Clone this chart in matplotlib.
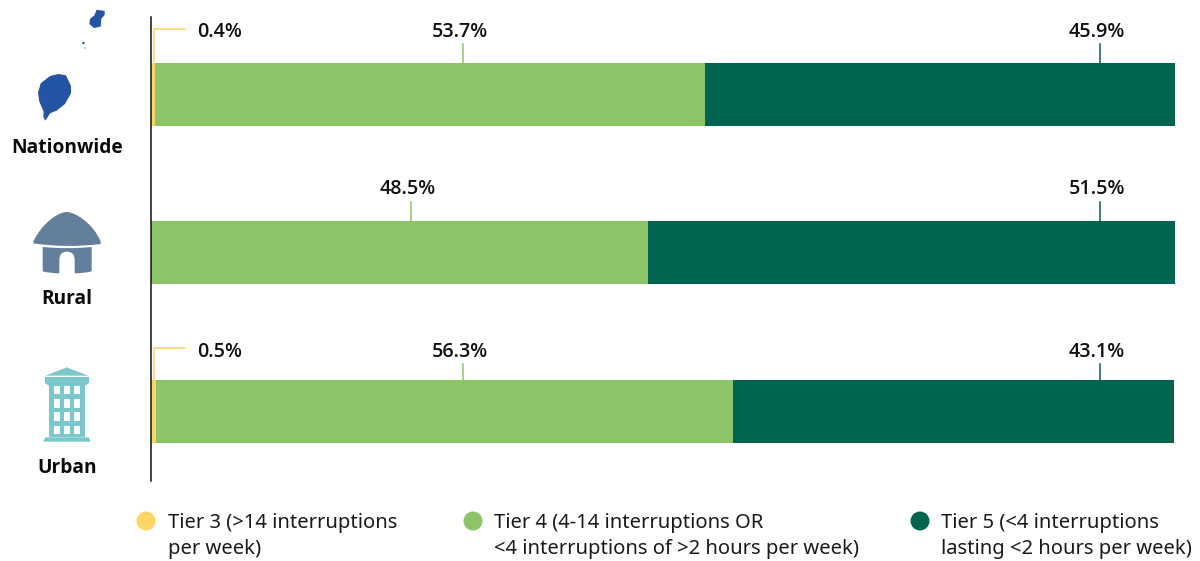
import matplotlib
matplotlib.use("Agg")
import matplotlib.pyplot as plt
from matplotlib.patches import Polygon, PathPatch, Rectangle, Circle
from matplotlib.path import Path

plt.rcParams['font.family'] = ['Noto Sans', 'DejaVu Sans']
BOLD = ['Open Sans', 'Lato', 'DejaVu Sans']

# ---- data ----
categories = ["Nationwide", "Rural", "Urban"]
tier3 = [0.4, 0.0, 0.5]
tier4 = [53.7, 48.5, 56.3]
tier5 = [45.9, 51.5, 43.1]
tier_labels = ["Tier 3 (>14 interruptions\nper week)",
               "Tier 4 (4-14 interruptions OR\n<4 interruptions of >2 hours per week)",
               "Tier 5 (<4 interruptions\nlasting <2 hours per week)"]

# ---- style ----
YEL, GRN, DRK = "#FFD566", "#8CC567", "#006450"
W, H = 1200, 561
fig = plt.figure(figsize=(W / 100, H / 100), dpi=100, facecolor="white")

# chart axes: x 151..1175 px, y 17..481 px, bars 158.5 px apart
ax = fig.add_axes([151 / W, 1 - 481 / H, 1024 / W, 464 / H])
ax.set_xlim(0, 100)
ax.set_ylim((481 - 94.5) / 158.5, (17 - 94.5) / 158.5)
ypos = range(len(categories))
left = [0.0] * 3
for vals, col in ((tier3, YEL), (tier4, GRN), (tier5, DRK)):
    ax.barh([p - 0.0015 for p in ypos], vals, left=left, height=63 / 158.5, color=col, linewidth=0, zorder=2)
    left = [a + b for a, b in zip(left, vals)]
for s in ("top", "right", "bottom"):
    ax.spines[s].set_visible(False)
ax.spines["left"].set_linewidth(1.1)
ax.spines["left"].set_color("#111111")
ax.spines["left"].set_zorder(5)
ax.set_xticks([])
ax.set_yticks([])

# overlay in pixel coordinates for leaders, icons, labels and legend
ov = fig.add_axes([0, 0, 1, 1], facecolor="none")
ov.set_xlim(0, W)
ov.set_ylim(H, 0)
ov.axis("off")

TXT = "#111111"
bar_tops = [63, 221, 380]
label_y = [31.5, 188.5, 351.5]
leader_tops = [44, 202, 364]
yellow_y = [29, None, 348]
label_x4 = [460, 408, 460]
for i in ypos:
    top = bar_tops[i]
    ly = leader_tops[i]
    if tier3[i] > 0:
        ov.plot([153.5, 153.5, 185], [top, yellow_y[i], yellow_y[i]], color=YEL, lw=1.1, solid_joinstyle="miter")
        ov.text(219.5, label_y[i], f"{tier3[i]:.1f}%", ha="center", va="center", fontsize=14.2, fontweight="semibold", family=BOLD, color=TXT)
    ov.plot([label_x4[i] + 3] * 2, [top, ly], color=GRN, lw=1.1)
    ov.text(label_x4[i], label_y[i], f"{tier4[i]:.1f}%", ha="center", va="center",
            fontsize=14.2, fontweight="semibold", family=BOLD, color=TXT)
    ov.plot([1099.5] * 2, [top, ly], color=DRK, lw=1.1)
    ov.text(1096.5, label_y[i], f"{tier5[i]:.1f}%", ha="center", va="center", fontsize=14.2, fontweight="semibold", family=BOLD, color=TXT)

# category labels
for name, y in zip(categories, (148, 299, 468)):
    ov.text(67, y, name, ha="center", va="center", fontsize=13.8, fontweight="bold", family=BOLD, color="#0b0b0b")

# map icon
BLUE = "#2455A4"
main = [(175,222),(198,226),(213,258),(213,280),(195,312),(170,332),(150,340),(143,352),(135,362),(130,350),(131,335),(118,305),(114,278),(122,250),(150,228)]
north = [(290,29),(314,33),(314,45),(304,56),(302,80),(282,84),(268,72),(270,57),(283,46)]
for poly in (main, north):
    ov.add_patch(Polygon([(x / 3, y / 3) for x, y in poly], closed=True, fc=BLUE, ec="none"))
ov.add_patch(Circle((83.5, 43), 1.2, fc=BLUE, ec="none"))
ov.add_patch(Circle((85, 48), 0.6, fc=BLUE, ec="none"))

# hut icon
HUT = "#647F9C"
def Z(x, y):
    return (x / 3, 200 + y / 3)
roof = Path([Z(100,125), Z(125,70), Z(175,36), Z(200,36), Z(225,36), Z(280,70), Z(302,125), Z(302,132), Z(200,145), Z(100,130), Z(100,125)],
            [Path.MOVETO, Path.CURVE4, Path.CURVE4, Path.CURVE4, Path.CURVE4, Path.CURVE4, Path.CURVE4, Path.LINETO, Path.CURVE3, Path.CURVE3, Path.CLOSEPOLY])
ov.add_patch(PathPatch(roof, fc=HUT, ec="none"))
wall = Path([Z(128,141), Z(200,148), Z(275,141), Z(275,214), Z(250,220), Z(224,220), Z(224,180), Z(224,155), Z(201,155),
             Z(178,155), Z(178,180), Z(178,220), Z(150,220), Z(128,214), Z(128,141)],
            [Path.MOVETO, Path.CURVE3, Path.CURVE3, Path.LINETO, Path.CURVE3, Path.CURVE3, Path.LINETO, Path.CURVE3, Path.CURVE3,
             Path.CURVE3, Path.CURVE3, Path.LINETO, Path.CURVE3, Path.CURVE3, Path.CLOSEPOLY])
ov.add_patch(PathPatch(wall, fc=HUT, ec="none"))

# building icon
BLD = "#7AC8CC"
def rect(x0, y0, x1, y1, c):
    a, b = Z(x0, y0), Z(x1, y1)
    ov.add_patch(Rectangle(a, b[0] - a[0], b[1] - a[1], fc=c, ec="none"))
ov.add_patch(Polygon([Z(200,502), Z(265,527), Z(137,527)], closed=True, fc=BLD, ec="none"))
ov.add_patch(Polygon([Z(135,531), Z(267,531), Z(267,549), Z(257,556), Z(145,556), Z(135,549)], closed=True, fc=BLD, ec="none"))
rect(146, 553, 256, 712, BLD)
ov.add_patch(Polygon([Z(136,712), Z(266,712), Z(272,725), Z(130,725)], closed=True, fc=BLD, ec="none"))
for wy in (557, 597, 637, 677):
    for wx in (162, 192, 222):
        rect(wx, wy, wx + 18, wy + 26, "white")

# legend
for lab, col, cx, tx in zip(tier_labels, (YEL, GRN, DRK), (146, 473, 920), (168, 494, 941)):
    ov.add_patch(Circle((cx, 521), 9.5, fc=col, ec="none"))
    ov.text(tx, 536, lab, ha="left", va="center", fontsize=14.5, color="#1a1a1a", linespacing=1.45)

fig.savefig("out.png", dpi=100)
